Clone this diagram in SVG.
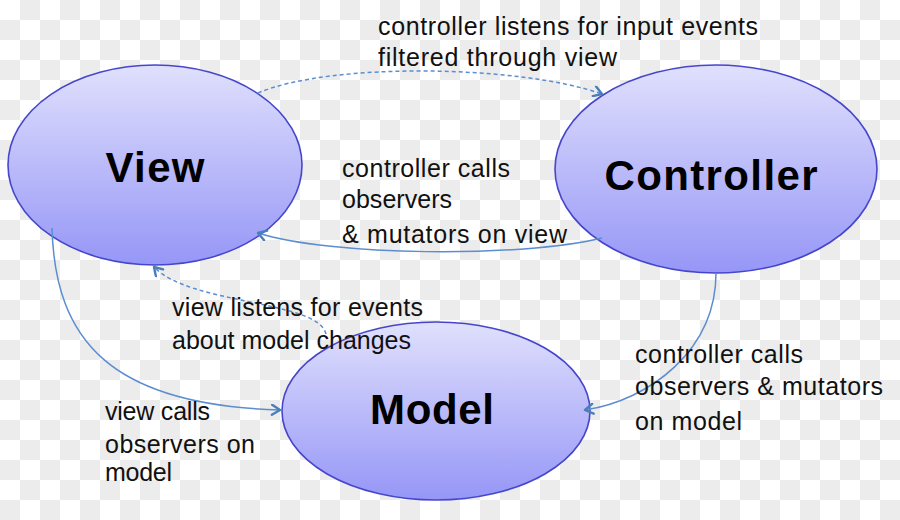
<svg xmlns="http://www.w3.org/2000/svg" width="900" height="520" viewBox="0 0 900 520">
  <defs>
    <pattern id="checker" x="0" y="0" width="40" height="40" patternUnits="userSpaceOnUse">
      <rect width="40" height="40" fill="#ffffff"/>
      <rect x="20" y="0" width="20" height="20" fill="#ececec"/>
      <rect x="0" y="20" width="20" height="20" fill="#ececec"/>
    </pattern>
    <linearGradient id="nodeFill" x1="0" y1="0" x2="0" y2="1">
      <stop offset="0" stop-color="#e0e0fd"/>
      <stop offset="1" stop-color="#9696f7"/>
    </linearGradient>
    <marker id="arrow" viewBox="0 0 12 12" refX="10" refY="6" markerWidth="12" markerHeight="12" markerUnits="userSpaceOnUse" orient="auto">
      <path d="M2,1 L10,6 L2,11" fill="none" stroke="#4a7ebb" stroke-width="2.4" stroke-linecap="round" stroke-linejoin="round"/>
    </marker>
  </defs>
  <style>
    .node { fill: url(#nodeFill); stroke: #4646cc; stroke-width: 1.6; }
    .title { font-family: "Liberation Sans", Arial, sans-serif; font-weight: bold; font-size: 42px; fill: #000; text-anchor: middle; }
    .label { font-family: "Liberation Sans", Arial, sans-serif; font-size: 25px; fill: #111; }
    .conn { fill: none; stroke: #5b8dd0; stroke-width: 1.5; marker-end: url(#arrow); }
    .dash { stroke-dasharray: 4 3; }
  </style>

  <rect x="0" y="0" width="900" height="520" fill="url(#checker)"/>

  <g id="view">
    <ellipse class="node" cx="155" cy="165" rx="147" ry="100"/>
    <text class="title" x="155" y="182" textLength="99">View</text>
  </g>
  <g id="controller">
    <ellipse class="node" cx="716" cy="169" rx="161" ry="104"/>
    <text class="title" x="711" y="190" textLength="213">Controller</text>
  </g>
  <g id="model">
    <ellipse class="node" cx="436" cy="411" rx="154" ry="89"/>
    <text class="title" x="432" y="424" textLength="124">Model</text>
  </g>

  <g id="connectors">
    <path class="conn dash" d="M258,93 C330,62 520,65 602,94"/>
    <path class="conn" d="M602,238 C520,258 330,256 258,233"/>
    <path class="conn dash" d="M326,334 C318,300 190,305 154,267"/>
    <path class="conn" d="M52,228 C55,340 110,405 280,410"/>
    <path class="conn" d="M716,273 C716,350 650,400 585,410"/>
  </g>

  <g id="labels">
    <text class="label" x="378" y="35" textLength="380">controller listens for input events</text>
    <text class="label" x="378" y="66" textLength="239">filtered through view</text>

    <text class="label" x="342" y="177" textLength="168">controller calls</text>
    <text class="label" x="342" y="208" textLength="110">observers</text>
    <text class="label" x="342" y="243" textLength="225">&amp; mutators on view</text>

    <text class="label" x="172" y="316" textLength="251">view listens for events</text>
    <text class="label" x="172" y="349" textLength="239">about model changes</text>

    <text class="label" x="635" y="363" textLength="168">controller calls</text>
    <text class="label" x="635" y="395" textLength="248">observers &amp; mutators</text>
    <text class="label" x="635" y="430" textLength="107">on model</text>

    <text class="label" x="105" y="420" textLength="105">view calls</text>
    <text class="label" x="105" y="453" textLength="150">observers on</text>
    <text class="label" x="105" y="481" textLength="67">model</text>
  </g>
</svg>
